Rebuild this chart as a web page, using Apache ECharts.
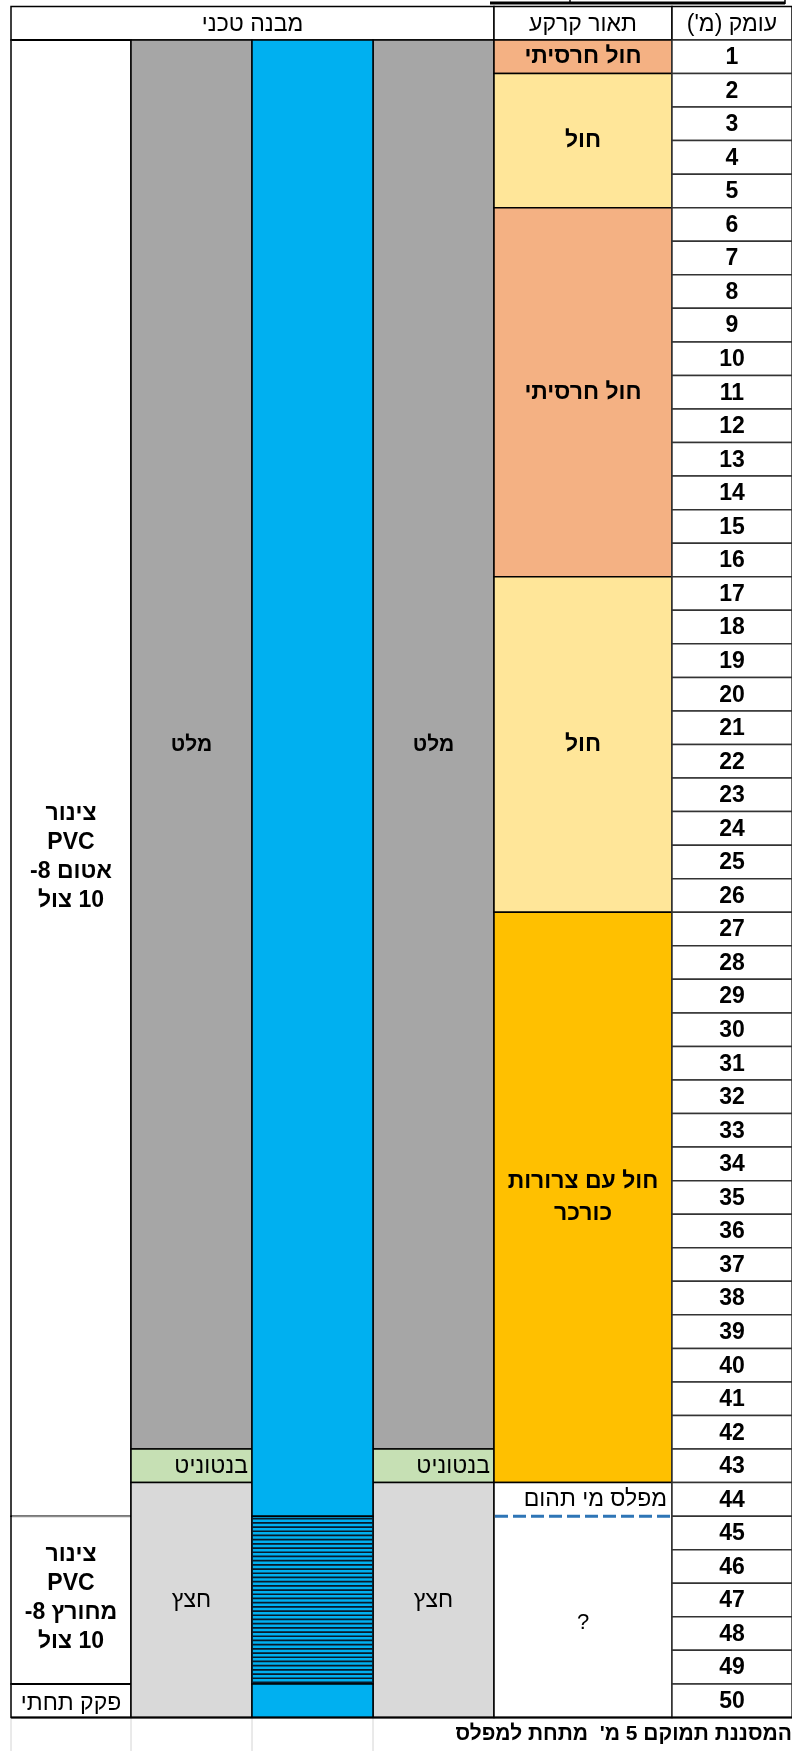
<!DOCTYPE html>
<html>
<head>
<meta charset="utf-8">
<script src="https://cdn.jsdelivr.net/npm/echarts@6/dist/echarts.min.js"></script>
<style>
  body { margin: 0; background: #fff; }
  #log { width: 792px; height: 1751px; direction: rtl; }
</style>
</head>
<body>
<div id="log"></div>
<script>
// ---- data (depths in metres) ----
var depthLabels = [1, 2, 3, 4, 5, 6, 7, 8, 9, 10, 11, 12, 13, 14, 15, 16, 17, 18, 19, 20,
  21, 22, 23, 24, 25, 26, 27, 28, 29, 30, 31, 32, 33, 34, 35, 36, 37, 38, 39, 40,
  41, 42, 43, 44, 45, 46, 47, 48, 49, 50];
var headerLabels = ['מבנה טכני', 'תאור קרקע', "עומק (מ')"];

var soilTop = [0, 1, 5, 16, 26, 43];
var soilBottom = [1, 5, 16, 26, 43, 50];
var soilNames = ['חול חרסיתי', 'חול', 'חול חרסיתי', 'חול', 'חול עם צרורות\nכורכר', ''];

var waterLevel = 44;
var waterLabel = 'מפלס מי תהום';
var unknownTop = [44];
var unknownBottom = [50];
var unknownNames = ['?'];

var sealTop = [0, 42, 43];
var sealBottom = [42, 43, 50];
var sealNames = ['מלט', 'בנטוניט', 'חצץ'];

var casingTop = [0, 44, 49];
var casingBottom = [44, 49, 50];
var casingNames = ['צינור\nPVC\nאטום 8-\n10 צול', 'צינור\nPVC\nמחורץ 8-\n10 צול', 'פקק תחתי'];

var pipeTop = [0, 44, 49];
var pipeBottom = [44, 49, 50];
var pipeKind = ['blank', 'screen', 'blank'];

var footNote = "המסננת תמוקם 5 מ'  מתחת למפלס";

// ---- layout / styles ----
var colEdges = [0, 120, 241, 362, 483, 661, 781];
var FONT = '"Liberation Sans", Arial, "DejaVu Sans", sans-serif';
var soilColors = ['#F4B183', '#FFE699', '#F4B183', '#FFE699', '#FFC000', '#FFFFFF'];
var sealColors = ['#A6A6A6', '#C6E0B4', '#D9D9D9'];
var sealAlign = ['center', 'right', 'center'];
var sealWeight = ['bold', 'normal', 'normal'];
var sealSize = [21, 23, 23];
var casingShift = [79, -2, 3];
var casingWeight = ['bold', 'bold', 'normal'];
var casingTopLine = ['#000', '#8c8c8c', '#000'];

function txt(s, x, y, size, weight, align, lh) {
  return {
    type: 'text', x: x, y: y, silent: true,
    style: {
      text: s, fill: '#000', fontSize: size, fontWeight: weight, fontFamily: FONT,
      align: align || 'center', verticalAlign: 'middle', lineHeight: lh || size + 10
    }
  };
}
function box(x, y, w, h, fill, stroke) {
  return {
    type: 'rect', shape: { x: x, y: y, width: w, height: h },
    style: { fill: fill, stroke: stroke || '#000', lineWidth: 1.5 }
  };
}
function hline(x1, x2, y, color, lw) {
  return { type: 'line', shape: { x1: x1, y1: y, x2: x2, y2: y }, style: { stroke: color, lineWidth: lw || 1.5 } };
}

function cellSeries(name, x0, x1, tops, bottoms, draw) {
  return {
    type: 'custom', name: name, clip: false, silent: true,
    data: tops.map(function (t, i) {
      return [Array.isArray(x0) ? x0[i] : x0, t, Array.isArray(x1) ? x1[i] : x1, bottoms[i], i];
    }),
    encode: { x: [0, 2], y: [1, 3] },
    renderItem: function (params, api) {
      var a = api.coord([api.value(0), api.value(1)]);
      var b = api.coord([api.value(2), api.value(3)]);
      return draw(api.value(4), a[0], a[1], b[0] - a[0], b[1] - a[1]);
    }
  };
}

var series = [];

// header
series.push(cellSeries('header', [colEdges[0], colEdges[4], colEdges[5]], [colEdges[4], colEdges[5], colEdges[6]],
  [-1, -1, -1], [0, 0, 0], function (i, x, y, w, h) {
    return { type: 'group', children: [box(x, y, w, h, '#fff'), txt(headerLabels[i], x + w / 2, y + h / 2 + 1, 23, 'normal')] };
  }));

// casing column
series.push(cellSeries('casing', colEdges[0], colEdges[1], casingTop, casingBottom, function (i, x, y, w, h) {
  return { type: 'group', children: [box(x, y, w, h, '#fff'),
    hline(x + 1, x + w - 1, y, casingTopLine[i], 2),
    txt(casingNames[i], x + w / 2, y + h / 2 + casingShift[i], 23, casingWeight[i], 'center', 29)] };
}));

// annulus left and right
function sealDraw(i, x, y, w, h) {
  var tx = sealAlign[i] === 'right' ? x + w - 4 : x + w / 2;
  return { type: 'group', children: [box(x, y, w, h, sealColors[i]),
    txt(sealNames[i], tx, y + h / 2 + 1, sealSize[i], sealWeight[i], sealAlign[i])] };
}
series.push(cellSeries('sealL', colEdges[1], colEdges[2], sealTop, sealBottom, sealDraw));
series.push(cellSeries('sealR', colEdges[3], colEdges[4], sealTop, sealBottom, sealDraw));

// pipe
series.push(cellSeries('pipe', colEdges[2], colEdges[3], pipeTop, pipeBottom, function (i, x, y, w, h) {
  var ch = [box(x, y, w, h, '#00B0F0')];
  if (pipeKind[i] === 'screen') {
    for (var yy = y + 2.5; yy < y + h - 1; yy += 4.2) {
      ch.push(hline(x, x + w, yy, '#0a1a2a', 1.7));
    }
  }
  return { type: 'group', children: ch };
}));

// soil description
series.push(cellSeries('soil', colEdges[4], colEdges[5], soilTop, soilBottom, function (i, x, y, w, h) {
  return { type: 'group', children: [box(x, y, w, h, soilColors[i]),
    txt(soilNames[i], x + w / 2, y + h / 2, 23, 'bold', 'center', 32)] };
}));
series.push(cellSeries('unknown', colEdges[4], colEdges[5], unknownTop, unknownBottom, function (i, x, y, w, h) {
  return txt(unknownNames[i], x + w / 2, y + h / 2 + 6, 22, 'normal');
}));
series.push(cellSeries('water', colEdges[4], colEdges[5], [waterLevel - 1], [waterLevel], function (i, x, y, w, h) {
  return { type: 'group', children: [
    txt(waterLabel, x + w - 5, y + h / 2, 23, 'normal', 'right'),
    { type: 'line', shape: { x1: x + 1, y1: y + h, x2: x + w, y2: y + h },
      style: { stroke: '#2E75B6', lineWidth: 3, lineDash: [13, 5] } }
  ] };
}));

// depth column
series.push(cellSeries('depth', colEdges[5], colEdges[6],
  depthLabels.map(function (d) { return d - 1; }), depthLabels, function (i, x, y, w, h) {
    return { type: 'group', children: [box(x, y, w, h, '#fff', '#333'),
      txt(String(depthLabels[i]), x + w / 2, y + h / 2 + 1, 23, 'bold')] };
  }));

// footer note
series.push(cellSeries('foot', colEdges[0], colEdges[6], [50], [51], function (i, x, y, w, h) {
  var ch = [];
  [colEdges[0], colEdges[1], colEdges[2], colEdges[3]].forEach(function (e) {
    var px = x + w * e / colEdges[6];
    ch.push({ type: 'line', shape: { x1: px, y1: y + 1, x2: px, y2: y + h }, style: { stroke: '#d4d4d4', lineWidth: 1 } });
  });
  ch.push(hline(x, x + w, y, '#000', 2));
  ch.push(txt(footNote, x + w, y + h / 2, 21, 'bold', 'right'));
  return { type: 'group', children: ch };
}));

var chart = echarts.init(document.getElementById('log'), null, { renderer: 'canvas' });
chart.setOption({
  backgroundColor: '#fff',
  animation: false,
  grid: { left: 11, right: 0, top: 6.4, height: 1747.2 },
  xAxis: { type: 'value', min: 0, max: 781, show: false },
  yAxis: { type: 'value', min: -1, max: 51, inverse: true, show: false },
  graphic: [
    { type: 'line', shape: { x1: 490, y1: 3, x2: 785, y2: 3 }, style: { stroke: '#000', lineWidth: 3 } },
    { type: 'line', shape: { x1: 570, y1: 0, x2: 570, y2: 4 }, style: { stroke: '#000', lineWidth: 1.5 } },
    { type: 'line', shape: { x1: 785, y1: 0, x2: 785, y2: 4 }, style: { stroke: '#000', lineWidth: 1.5 } }
  ],
  series: series
});
</script>
</body>
</html>
